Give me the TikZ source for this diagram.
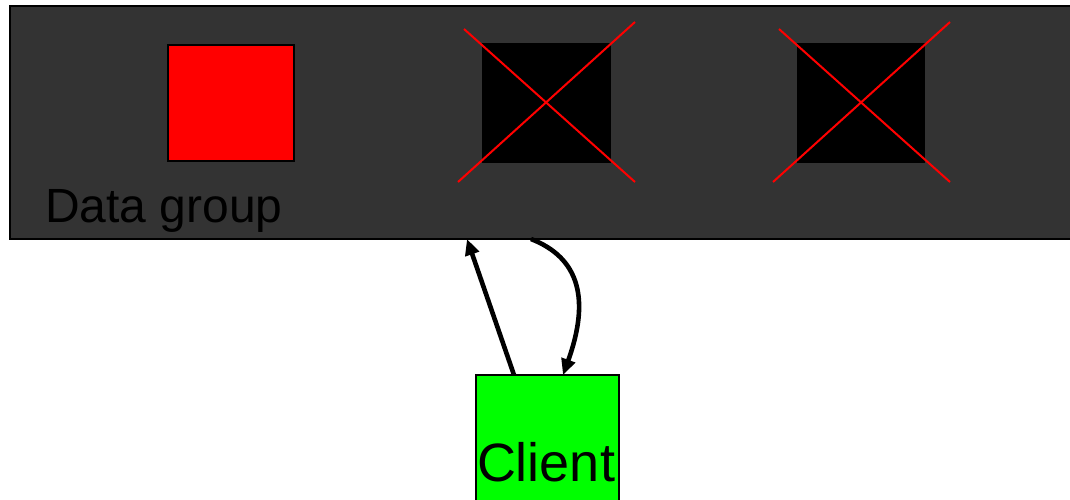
\documentclass[tikz,border=0pt]{standalone}
\usepackage{fontspec}
\setmainfont{Liberation Sans}
\usetikzlibrary{arrows.meta,calc}
\definecolor{dgfill}{RGB}{51,51,51}
\definecolor{pure red}{RGB}{255,0,0}
\definecolor{pure green}{RGB}{0,255,0}
\tikzset{
  groupbox/.style={draw=black,line width=2pt,fill=dgfill,rectangle,inner sep=0,outer sep=0,anchor=north west},
  replica/.style={rectangle,inner sep=0,outer sep=0,anchor=north west,minimum width=#1},
  cross/.style={draw=pure red,line width=2pt},
  arr/.style={line width=4.6pt,-{Triangle[length=16pt,width=14pt]}},
  lbl/.style={inner sep=0,outer sep=0,anchor=base west,text=black},
}
\begin{document}
\begin{tikzpicture}[x=1pt,y=-1pt]
\useasboundingbox (0,0) rectangle (1070,499);
\clip (0,0) rectangle (1070,499);
\fill[white] (0,0) rectangle (1070,499);
% data group
\node[groupbox,minimum width=1068pt,minimum height=233pt] (dg) at (10,6) {};
\node[lbl,font=\fontsize{48}{48}\selectfont] (dglbl) at (45,222) {Data group};
% replicas
\node[replica=126pt,minimum height=116pt,draw=black,line width=2pt,fill=pure red] (r1) at (168,45) {};
\node[replica=129pt,minimum height=120pt,fill=black] (r2) at (482,43) {};
\node[replica=128pt,minimum height=120pt,fill=black] (r3) at (797,43) {};
% crosses
\coordinate (c2a) at (458,182); \coordinate (c2b) at (635,22);
\coordinate (c2c) at (464,29);  \coordinate (c2d) at (635,182);
\draw[cross] (c2a) -- (c2b);
\draw[cross] (c2c) -- (c2d);
\coordinate (c3a) at (773,182); \coordinate (c3b) at (950,22);
\coordinate (c3c) at (779,29);  \coordinate (c3d) at (950,182);
\draw[cross] (c3a) -- (c3b);
\draw[cross] (c3c) -- (c3d);
% client
\node[rectangle,draw=black,line width=1.2pt,fill=pure green,inner sep=0,outer sep=0,anchor=north west,minimum width=143pt,minimum height=140pt] (client) at (476,375) {};
\node[lbl,font=\fontsize{54}{54}\selectfont] (clbl) at (477,481) {Client};
% arrows
\draw[arr] ($(client.north west)+(38,0)$) -- ($(dg.south west)+(457,0)$);
\draw[arr] ($(dg.south west)+(521,0)$) .. controls (580,258) and (590,300) .. ($(client.north west)+(87,0)$);
\end{tikzpicture}
\end{document}
